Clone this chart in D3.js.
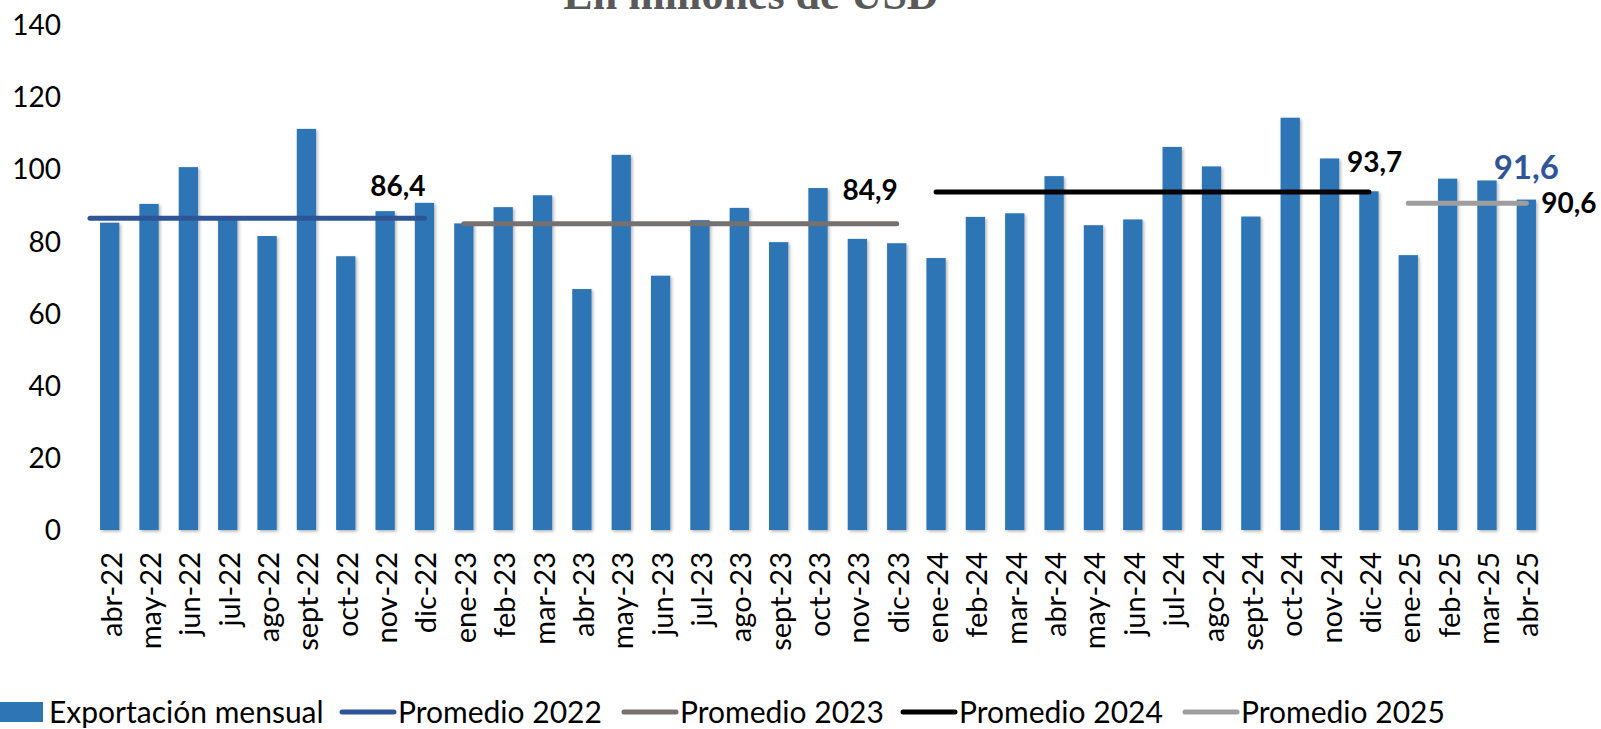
<!DOCTYPE html>
<html>
<head>
<meta charset="utf-8">
<script src="https://cdn.jsdelivr.net/npm/d3@7"></script>
<style>
  html, body { margin: 0; padding: 0; background: #fff; }
  svg { display: block; font-family: "Lato", "Open Sans", sans-serif; }
</style>
</head>
<body>
<div id="chart"></div>
<script>
let width = 1601
let height = 729

// monthly exports, millions USD
const months = ["abr-22","may-22","jun-22","jul-22","ago-22","sept-22","oct-22","nov-22","dic-22",
  "ene-23","feb-23","mar-23","abr-23","may-23","jun-23","jul-23","ago-23","sept-23","oct-23","nov-23","dic-23",
  "ene-24","feb-24","mar-24","abr-24","may-24","jun-24","jul-24","ago-24","sept-24","oct-24","nov-24","dic-24",
  "ene-25","feb-25","mar-25","abr-25"]
const exports = [85.2, 90.4, 100.6, 86.6, 81.5, 111.2, 75.9, 88.4, 90.7,
  85.0, 89.5, 92.8, 66.8, 104.0, 70.5, 85.9, 89.3, 79.8, 94.8, 80.7, 79.5,
  75.4, 86.8, 87.8, 98.1, 84.5, 86.1, 106.2, 100.8, 86.9, 114.3, 103.0, 93.9,
  76.2, 97.4, 96.9, 91.6]

// yearly averages
const avgNames = ["Promedio 2022", "Promedio 2023", "Promedio 2024", "Promedio 2025"]
const avgValues = [86.4, 84.9, 93.7, 90.6]
const avgFrom = ["abr-22", "ene-23", "ene-24", "ene-25"]
const avgTo = ["dic-22", "dic-23", "dic-24", "abr-25"]
const avgColors = ["#2F5597", "#767171", "#000000", "#9E9E9E"]

const yTicks = [0, 20, 40, 60, 80, 100, 120, 140]
const barColor = "#2E75B6"

let svg = d3.select("#chart").append("svg")
  .attr("width", width)
  .attr("height", height)

let defs = svg.append("defs")
defs.append("filter")
    .attr("id", "shadow")
    .attr("x", "-30%").attr("y", "-5%").attr("width", "160%").attr("height", "110%")
  .append("feDropShadow")
    .attr("dx", 1.5).attr("dy", 1.5).attr("stdDeviation", 1.5)
    .attr("flood-color", "#000").attr("flood-opacity", 0.3)

const x = d3.scaleBand()
  .domain(months)
  .range([90, 1546])
  .paddingInner(0.51)
  .paddingOuter(0.255)

const y = d3.scaleLinear()
  .domain([0, 140])
  .range([530, 25])

const cx = m => x(m) + x.bandwidth() / 2

// title, cut at the top edge as in the source
svg.append("text")
  .attr("x", 751)
  .attr("y", 8.5)
  .attr("text-anchor", "middle")
  .style("font-family", "'Liberation Serif', serif")
  .style("font-weight", "bold")
  .style("font-size", "44px")
  .style("fill", "#595959")
  .text("En millones de USD")

// y axis labels
svg.append("g")
  .selectAll("text")
  .data(yTicks)
  .join("text")
  .attr("x", 61)
  .attr("y", d => y(d))
  .attr("dy", "0.36em")
  .attr("text-anchor", "end")
  .style("font-size", "28px")
  .text(d => d)

// bars
svg.append("g")
  .selectAll("rect")
  .data(months)
  .join("rect")
  .attr("x", d => x(d))
  .attr("y", (d, i) => y(exports[i]))
  .attr("width", x.bandwidth())
  .attr("height", (d, i) => y(0) - y(exports[i]))
  .attr("fill", barColor)
  .attr("filter", "url(#shadow)")

// category labels
svg.append("g")
  .selectAll("text")
  .data(months)
  .join("text")
  .attr("transform", d => `translate(${cx(d) + 12},552) rotate(-90)`)
  .attr("text-anchor", "end")
  .style("font-size", "29px")
  .text(d => d)

// average lines
svg.append("g")
  .selectAll("line")
  .data(avgValues)
  .join("line")
  .attr("x1", (d, i) => i === 0 ? x.range()[0] : cx(avgFrom[i]))
  .attr("x2", (d, i) => cx(avgTo[i]))
  .attr("y1", d => y(d))
  .attr("y2", d => y(d))
  .attr("stroke", (d, i) => avgColors[i])
  .attr("stroke-width", 5)
  .attr("stroke-linecap", "round")

// average labels: [dx from line end, dy from line, anchor]
const avgLabelPos = [[1, -22, "end"], [1, -24, "end"], [-22, -20, "start"], [15, 10, "start"]]
svg.append("g")
  .selectAll("text")
  .data(avgValues)
  .join("text")
  .attr("x", (d, i) => cx(avgTo[i]) + avgLabelPos[i][0])
  .attr("y", d => y(d))
  .attr("dy", (d, i) => avgLabelPos[i][1])
  .attr("text-anchor", (d, i) => avgLabelPos[i][2])
  .style("font-size", "28px")
  .style("font-weight", "bold")
  .text(d => d3.format(".1f")(d).replace(".", ","))

// last bar label
const last = months.length - 1
svg.append("text")
  .attr("x", cx(months[last]))
  .attr("y", y(exports[last]) - 21)
  .attr("text-anchor", "middle")
  .style("font-size", "33px")
  .style("font-weight", "bold")
  .style("fill", "#2F5597")
  .text(d3.format(".1f")(exports[last]).replace(".", ","))

// legend
const legendX = [0, 340, 622, 901, 1183]
const legendNames = ["Exportación mensual"].concat(avgNames)
let legend = svg.append("g")
legendNames.forEach(function(name, i) {
  let g = legend.append("g").attr("transform", `translate(${legendX[i]},712)`)
  if (i === 0) {
    g.append("rect")
      .attr("x", 0).attr("y", -10)
      .attr("width", 43).attr("height", 20)
      .attr("fill", barColor)
    g.append("text")
      .attr("x", 49).attr("y", 11)
      .style("font-size", "30px")
      .text(name)
  } else {
    g.append("line")
      .attr("x1", 2).attr("x2", 54)
      .attr("y1", 0).attr("y2", 0)
      .attr("stroke", avgColors[i - 1])
      .attr("stroke-width", 5)
      .attr("stroke-linecap", "round")
    g.append("text")
      .attr("x", 58).attr("y", 11)
      .style("font-size", "30px")
      .text(name)
  }
})
</script>
</body>
</html>
